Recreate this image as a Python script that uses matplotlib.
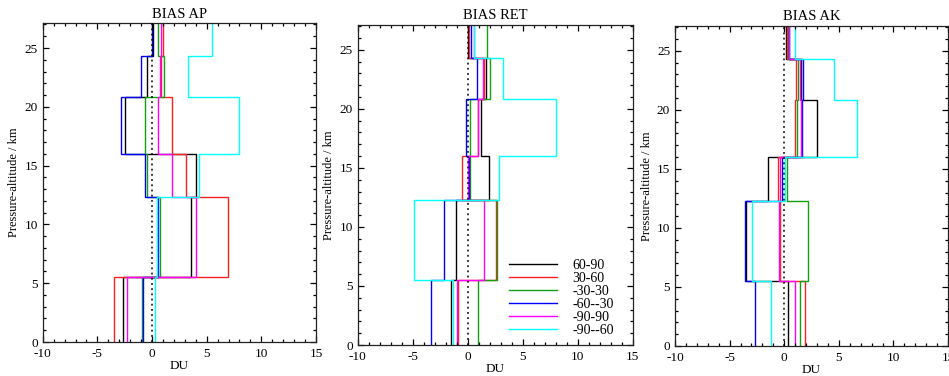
#!/usr/bin/env python3
"""Ozone partial-column bias profiles (AP, RET, AK) per latitude band."""

import matplotlib
matplotlib.use("Agg")
import matplotlib.pyplot as plt
from matplotlib.ticker import MultipleLocator

plt.rcParams["font.family"] = ["Liberation Serif", "DejaVu Serif"]
plt.rcParams["axes.unicode_minus"] = False

# layer edges, pressure-altitude in km (bottom -> top)
LAYER_EDGES = [0.0, 5.5, 12.3, 16.0, 20.8, 24.3, 27.1]

BANDS = ["60-90", "30-60", "-30-30", "-60--30", "-90-90", "-90--60"]
COLORS = ["black", "#ff2020", "#10a010", "#0000ff", "#ff00ff", "#00ffff"]

# bias per layer in DU, one list per latitude band, bottom -> top
AP_BIAS = {
    "60-90": [-2.70, 3.57, 4.03, -2.44, -0.49, 0.12],
    "30-60": [-3.45, 6.97, 3.12, 1.86, 0.80, 0.97],
    "-30-30": [-0.91, 0.72, -0.49, -0.68, 1.08, 0.57],
    "-60--30": [-0.85, 0.52, -0.67, -2.86, -1.03, -0.02],
    "-90-90": [-2.29, 4.05, 1.86, 0.58, 0.72, 0.85],
    "-90--60": [0.27, 0.43, 4.27, 7.97, 3.26, 5.50],
}
RET_BIAS = {
    "60-90": [-1.55, -1.09, 1.91, 1.18, 1.64, 0.00],
    "30-60": [-0.84, 2.55, -0.55, 0.96, 1.45, 0.08],
    "-30-30": [0.90, 2.66, 0.20, 0.25, 2.06, 1.78],
    "-60--30": [-3.30, -2.17, 0.10, -0.16, 0.84, 0.28],
    "-90-90": [-0.94, 1.45, 0.04, 0.90, 1.36, 0.57],
    "-90--60": [-1.33, -4.90, 2.85, 8.07, 3.22, 0.60],
}
AK_BIAS = {
    "60-90": [0.30, -3.48, -1.53, 3.04, 1.56, 0.20],
    "30-60": [1.92, -0.42, -0.55, 1.03, 1.10, 0.27],
    "-30-30": [1.45, 2.22, 0.27, 1.19, 1.25, 0.33],
    "-60--30": [-2.68, -3.55, -0.24, 1.64, 1.70, 0.45],
    "-90-90": [0.98, -0.46, -0.36, 1.58, 1.40, 0.40],
    "-90--60": [-1.24, -2.92, 0.10, 6.65, 4.58, 1.00],
}

PANELS = [
    ("BIAS AP", AP_BIAS, [0.045, 0.0904, 0.288, 0.8476]),
    ("BIAS RET", RET_BIAS, [0.3769, 0.0824, 0.2898, 0.851]),
    ("BIAS AK", AK_BIAS, [0.7113, 0.0798, 0.2877, 0.851]),
]


def style_axes(ax):
    ax.set_xlim(-10, 15)
    ax.set_ylim(0, 27.1)
    ax.xaxis.set_major_locator(MultipleLocator(5))
    ax.xaxis.set_minor_locator(MultipleLocator(1))
    ax.yaxis.set_major_locator(MultipleLocator(5))
    ax.yaxis.set_minor_locator(MultipleLocator(1))
    ax.tick_params(which="both", direction="in", top=True, right=True,
                   width=0.9, labelsize=9.5)
    ax.tick_params(axis="x", which="both", pad=4.5)
    ax.tick_params(axis="y", which="both", pad=3.5)
    ax.tick_params(which="major", length=4.3)
    ax.tick_params(which="minor", length=2.2)
    for sp in ax.spines.values():
        sp.set_linewidth(0.9)
        sp.set_color("#222222")
    ax.set_xlabel("DU", fontsize=9.5, labelpad=0)
    ax.set_ylabel("Pressure-altitude / km", fontsize=9, labelpad=3)


fig = plt.figure(figsize=(9.49, 3.76), dpi=100)

for title, data, rect in PANELS:
    ax = fig.add_axes(rect)
    for band, color in zip(BANDS, COLORS):
        ax.stairs(data[band], LAYER_EDGES, orientation="horizontal",
                  baseline=None, color=color, linewidth=1.0, label=band)
    ax.axvline(0, color="black", linestyle=(0, (1.2, 2.2)), linewidth=1.1, zorder=5)
    style_axes(ax)
    ax.set_title(title, fontsize=10.5, pad=4)
    if title == "BIAS RET":
        ax.legend(loc="lower right", bbox_to_anchor=(0.967, -0.005), frameon=False,
                  fontsize=10, handlelength=3.5, handletextpad=1.1,
                  labelspacing=0.0, borderpad=0.2)

fig.savefig("out.png", dpi=100)
